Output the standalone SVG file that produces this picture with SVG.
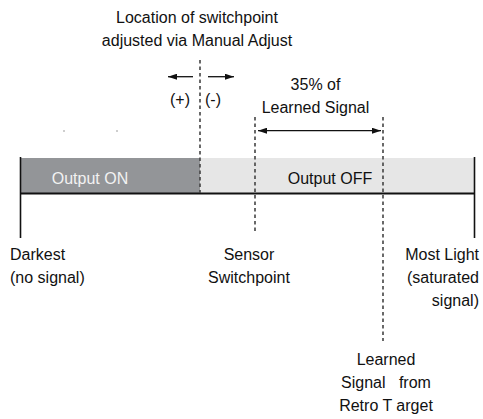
<svg xmlns="http://www.w3.org/2000/svg" width="483" height="419" viewBox="0 0 483 419">
<style>
text{font-family:"Liberation Sans",Arial,sans-serif;font-size:16px;fill:#111}
.c{text-anchor:middle}
.r{text-anchor:end}
.dash{stroke:#444;stroke-width:1.6;stroke-dasharray:3.5,3;fill:none}
.tick{stroke:#111;stroke-width:1.6}
.arr{stroke:#111;stroke-width:1.3;fill:none}
</style>
<defs>
<marker id="ah" viewBox="0 0 10 10" refX="10" refY="5" markerWidth="9" markerHeight="6" markerUnits="userSpaceOnUse" orient="auto-start-reverse" preserveAspectRatio="none">
<path d="M0,0 L10,5 L0,10 Z" fill="#111"/>
</marker>
</defs>
<rect width="483" height="419" fill="#fff"/>
<g id="bar">
<rect x="20.5" y="158" width="180" height="35.5" fill="#939598"/>
<rect x="200" y="158" width="274.5" height="35.5" fill="#e6e6e6"/>
<line x1="20" y1="193.5" x2="475" y2="193.5" stroke="#111" stroke-width="2.2"/>
<text x="90" y="184" class="c" style="fill:#f2f2f2">Output ON</text>
<text x="330" y="184" class="c">Output OFF</text>
</g>
<g id="connectors">
<line class="tick" x1="20.5" y1="157" x2="20.5" y2="238"/>
<line class="tick" x1="474.5" y1="157" x2="474.5" y2="238"/>
<line class="dash" x1="200" y1="60" x2="200" y2="193"/>
<line class="dash" x1="255" y1="117" x2="255" y2="231"/>
<line class="dash" x1="383" y1="117" x2="383" y2="341"/>
<line class="arr" x1="258" y1="130.7" x2="381" y2="130.7" marker-start="url(#ah)" marker-end="url(#ah)"/>
<line class="arr" x1="193" y1="76.7" x2="168" y2="76.7" marker-end="url(#ah)"/>
<line class="arr" x1="208" y1="76.7" x2="234" y2="76.7" marker-end="url(#ah)"/>
<circle cx="64" cy="131" r="0.7" fill="#777"/>
<circle cx="117" cy="131" r="0.7" fill="#777"/>
</g>
<g id="title">
<text x="197" y="23" class="c">Location of switchpoint</text>
<text x="197" y="46" class="c">adjusted via Manual Adjust</text>
</g>
<g id="plusminus">
<text x="180" y="105" class="c">(+)</text>
<text x="213" y="105" class="c">(-)</text>
</g>
<g id="pct">
<text x="315.5" y="90" class="c">35% of</text>
<text x="315.5" y="113" class="c">Learned Signal</text>
</g>
<g id="darkest">
<text x="10" y="260">Darkest</text>
<text x="10" y="283">(no signal)</text>
</g>
<g id="sensor">
<text x="249" y="260" class="c">Sensor</text>
<text x="249" y="283" class="c">Switchpoint</text>
</g>
<g id="mostlight">
<text x="479" y="260" class="r">Most Light</text>
<text x="479" y="283" class="r">(saturated</text>
<text x="479" y="306" class="r">signal)</text>
</g>
<g id="learned">
<text x="386" y="365" class="c">Learned</text>
<text x="386" y="388" class="c" xml:space="preserve">Signal   from</text>
<text x="386" y="411" class="c">Retro T arget</text>
</g>
</svg>
